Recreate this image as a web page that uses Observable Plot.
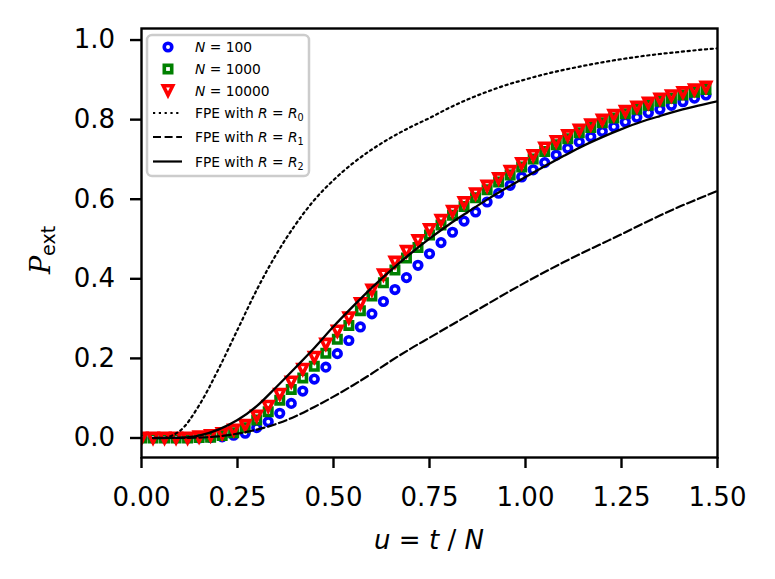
<!DOCTYPE html>
<html><head><meta charset="utf-8">
<script src="https://cdn.jsdelivr.net/npm/d3@7"></script>
<script src="https://cdn.jsdelivr.net/npm/@observablehq/plot@0.6"></script>
<style>
body{margin:0;background:#fff;}
#wrap{position:relative;width:775px;height:579px;font-family:"DejaVu Sans",sans-serif;color:#000;}
#wrap svg{display:block;}
#over{position:absolute;left:0;top:0;pointer-events:none;}
</style></head><body><div id="wrap"></div>
<script>
// ---- data ----
const uPts = [0.00,0.03,0.06,0.09,0.12,0.15,0.18,0.21,0.24,0.27,0.30,0.33,0.36,0.39,0.42,0.45,0.48,0.51,0.54,0.57,
              0.60,0.63,0.66,0.69,0.72,0.75,0.78,0.81,0.84,0.87,0.90,0.93,0.96,0.99,1.02,1.05,1.08,1.11,1.14,1.17,
              1.20,1.23,1.26,1.29,1.32,1.35,1.38,1.41,1.44,1.47];
const pN100 = [0,0,0,0,0,0,0.001,0.003,0.007,0.012,0.026,0.041,0.062,0.087,0.118,0.148,0.178,0.212,0.245,0.279,
               0.312,0.343,0.373,0.403,0.434,0.463,0.491,0.517,0.545,0.568,0.593,0.615,0.635,0.656,0.674,0.692,0.711,0.728,0.744,0.757,
               0.770,0.782,0.794,0.806,0.817,0.826,0.836,0.845,0.854,0.862];
const pN1000 = [0,0,0,0,0,0.001,0.002,0.006,0.013,0.026,0.045,0.066,0.095,0.122,0.151,0.180,0.213,0.248,0.283,0.320,
                0.357,0.390,0.422,0.452,0.479,0.510,0.535,0.560,0.582,0.604,0.624,0.643,0.661,0.681,0.701,0.720,0.737,0.752,0.767,0.780,
                0.792,0.804,0.815,0.826,0.836,0.846,0.854,0.862,0.869,0.876];
const pN10000 = [0,0,0,0,0,0.003,0.006,0.011,0.020,0.032,0.055,0.080,0.110,0.141,0.173,0.203,0.236,0.269,0.302,0.338,
                 0.372,0.410,0.442,0.469,0.496,0.524,0.547,0.570,0.592,0.614,0.633,0.652,0.670,0.690,0.710,0.729,0.745,0.760,0.774,0.787,
                 0.799,0.811,0.821,0.832,0.842,0.852,0.860,0.868,0.875,0.882];

const uCurve = [0.03,0.05,0.10,0.15,0.20,0.25,0.30,0.35,0.40,0.45,0.50,0.55,0.60,0.65,0.70,0.75,
                0.80,0.85,0.90,0.95,1.00,1.05,1.10,1.15,1.20,1.25,1.30,1.35,1.40,1.45,1.50];
const pR0 = [0,0,0.018,0.082,0.172,0.272,0.372,0.460,0.535,0.598,0.648,0.690,0.725,0.755,0.781,0.804,
             0.829,0.851,0.870,0.887,0.901,0.914,0.925,0.935,0.944,0.952,0.959,0.965,0.970,0.975,0.979];
const pR1 = [0,0,0,0.001,0.004,0.011,0.021,0.035,0.054,0.078,0.104,0.132,0.162,0.194,0.224,0.252,
             0.280,0.308,0.336,0.364,0.391,0.417,0.442,0.466,0.489,0.512,0.536,0.559,0.581,0.601,0.621];
const pR2 = [0,0,0.001,0.006,0.021,0.045,0.080,0.127,0.176,0.226,0.280,0.330,0.378,0.422,0.463,0.501,
             0.536,0.568,0.599,0.628,0.656,0.683,0.709,0.734,0.756,0.776,0.794,0.809,0.823,0.835,0.846];

const xTicks = [0,0.25,0.5,0.75,1.0,1.25,1.5];
const yTicks = [0,0.2,0.4,0.6,0.8,1.0];

const seriesNames = ["N = 100","N = 1000","N = 10000","FPE with R = R0","FPE with R = R1","FPE with R = R2"];
const colBlue = "#0000ff", colGreen = "#008000", colRed = "#ff0000";

// ---- marker shapes ----
const squareSym = {draw(ctx, size){ const s = Math.sqrt(size/Math.PI); ctx.rect(-s,-s,2*s,2*s); }};
const triDownSym = {draw(ctx, size){ const s = Math.sqrt(size/Math.PI); ctx.moveTo(-s,-s); ctx.lineTo(s,-s); ctx.lineTo(0,s); ctx.closePath(); }};

const rC = 3.8, rS = 3.7, rT = 4.7, swM = 3.6;

const idx = d3.range(uPts.length);
const idxC = d3.range(uCurve.length);

const plot = Plot.plot({
  width: 775, height: 579,
  marginLeft: 141, marginRight: 58, marginTop: 28, marginBottom: 122,
  style: {fontFamily: "DejaVu Sans, sans-serif", background: "white", color: "black"},
  x: {domain: [0, 1.5]},
  y: {domain: [-0.049, 1.029]},
  marks: [
    Plot.dot(idx, {x: i => uPts[i], y: i => pN100[i], r: rC, symbol: "circle", stroke: colBlue, strokeWidth: swM, fill: "none", clip: "frame"}),
    Plot.dot(idx, {x: i => uPts[i], y: i => pN1000[i], r: rS, symbol: squareSym, stroke: colGreen, strokeWidth: swM, fill: "none", strokeLinejoin: "miter", clip: "frame"}),
    Plot.dot(idx, {x: i => uPts[i], y: i => pN10000[i], r: rT, symbol: triDownSym, stroke: colRed, strokeWidth: swM, fill: "none", strokeLinejoin: "miter", clip: "frame"}),
    Plot.line(idxC, {x: i => uCurve[i], y: i => pR0[i], stroke: "black", strokeWidth: 2.2, strokeDasharray: "2.2,3.6", curve: "monotone-x", clip: "frame"}),
    Plot.line(idxC, {x: i => uCurve[i], y: i => pR1[i], stroke: "black", strokeWidth: 2.2, strokeDasharray: "8,3.6", curve: "monotone-x", clip: "frame"}),
    Plot.line(idxC, {x: i => uCurve[i], y: i => pR2[i], stroke: "black", strokeWidth: 2.3, curve: "monotone-x", clip: "frame"}),
    Plot.frame({stroke: "black", strokeWidth: 2.4}),
    Plot.axisX({ticks: xTicks, tickFormat: d3.format(".2f"), tickSize: 11, tickPadding: 19, strokeWidth: 2.4, fontSize: 26, label: null}),
    Plot.axisY({ticks: yTicks, tickFormat: d3.format(".1f"), tickSize: 11, tickPadding: 15.5, strokeWidth: 2.4, fontSize: 26, label: null})
  ]
});
const wrap = document.getElementById("wrap");
wrap.appendChild(plot);

// ---- overlay: axis labels and legend ----
const svg = d3.select(wrap).append("svg").attr("id","over").attr("width",775).attr("height",579)
  .style("font-family","DejaVu Sans, sans-serif");

// x label
const xl = svg.append("text").attr("x",429).attr("y",549).attr("text-anchor","middle")
  .attr("font-size",26).style("white-space","pre");
xl.append("tspan").attr("font-style","italic").text("u");
xl.append("tspan").text(" = ");
xl.append("tspan").attr("font-style","italic").text("t");
xl.append("tspan").text(" / ");
xl.append("tspan").attr("font-style","italic").text("N");

// y label
const yl = svg.append("text").attr("transform","translate(50,250) rotate(-90)").attr("text-anchor","middle").attr("font-size",27);
yl.append("tspan").attr("font-family","DejaVu Serif, serif").attr("font-style","italic").text("P");
yl.append("tspan").attr("font-size",19).attr("dy",5).text("ext");

// legend
const lg = svg.append("g");
lg.append("rect").attr("x",147).attr("y",35).attr("width",162).attr("height",141).attr("rx",5)
  .attr("fill","white").attr("fill-opacity",0.8).attr("stroke","#cccccc").attr("stroke-width",2.5);
const rowsY = [47, 69, 90.5, 113, 137, 161.5];
const mx = 168, tx = 195, fs = 13.8;
// markers
lg.append("circle").attr("cx",mx).attr("cy",rowsY[0]).attr("r",rC).attr("fill","none").attr("stroke",colBlue).attr("stroke-width",swM);
lg.append("rect").attr("x",mx-rS).attr("y",rowsY[1]-rS).attr("width",2*rS).attr("height",2*rS).attr("fill","none").attr("stroke",colGreen).attr("stroke-width",swM);
lg.append("path").attr("d",`M${mx-rT},${rowsY[2]-rT}L${mx+rT},${rowsY[2]-rT}L${mx},${rowsY[2]+rT}Z`).attr("fill","none").attr("stroke",colRed).attr("stroke-width",swM);
// line samples
const dashes = ["2.2,3.6","8,3.6",null];
[3,4,5].forEach((k,j) => {
  const l = lg.append("line").attr("x1",153).attr("x2",182).attr("y1",rowsY[k]).attr("y2",rowsY[k])
    .attr("stroke","black").attr("stroke-width",2.2);
  if (dashes[j]) l.attr("stroke-dasharray",dashes[j]);
});
// legend texts
seriesNames.forEach((name, k) => {
  const t = lg.append("text").attr("x",tx).attr("y",rowsY[k]+5).attr("font-size",fs).style("white-space","pre");
  if (k < 3) {
    const parts = name.split(" = ");
    t.append("tspan").attr("font-style","italic").text(parts[0]);
    t.append("tspan").text(" = " + parts[1]);
  } else {
    const m = name.match(/^(FPE with )R = R(\d)$/);
    t.append("tspan").text(m[1]);
    t.append("tspan").attr("font-style","italic").text("R");
    t.append("tspan").text(" = ");
    t.append("tspan").attr("font-style","italic").text("R");
    t.append("tspan").attr("font-size",fs*0.7).attr("dy",3).text(m[2]);
  }
});
</script></body></html>
